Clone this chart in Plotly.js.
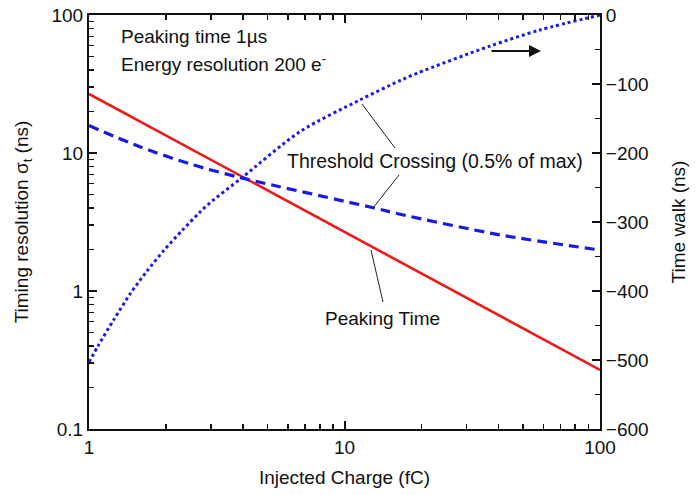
<!DOCTYPE html>
<html>
<head>
<meta charset="utf-8">
<script src="https://cdn.plot.ly/plotly-3.0.1.min.js"></script>
<style>html,body{margin:0;padding:0;background:#fff}#chart{width:697px;height:495px}</style>
</head>
<body>
<div id="chart"></div>
<script>
// Peaking time timing resolution (ns) vs injected charge (fC)
var peakQ = [1, 10, 100];
var peakSigma = [26.8, 2.68, 0.268];

// Threshold crossing timing resolution (ns)
var thrQ = [1, 1.58, 2.56, 3.96, 12.96, 16.5, 40.6, 100];
var thrSigma = [15.8, 11.1, 8.19, 6.6, 4.01, 3.6, 2.55, 1.98];

// Threshold crossing time walk (ns), right axis
var walkQ = [1.0, 1.087, 1.253, 1.456, 1.687, 1.966, 2.318, 2.696, 2.958, 3.96, 6.70, 11.5, 16.5, 19.2, 37.1, 58.2, 100];
var walkNs = [-503, -479, -441, -403, -371, -341, -312, -287, -273, -236, -169, -123, -95, -84.5, -45, -21.7, 0];

var FONT = 'Arial, "Liberation Sans", sans-serif';
var FS = 19;
var TC = '#111';
var L = 89, R = 600, T = 15, B = 429;
function px(x){ return (x - L) / (R - L); }
function py(y){ return (B - y) / (B - T); }

var traces = [
  {x: peakQ, y: peakSigma, type: 'scatter', mode: 'lines',
   line: {color: 'rgb(240,25,25)', width: 2.6}, xaxis: 'x', yaxis: 'y'},
  {x: thrQ, y: thrSigma, type: 'scatter', mode: 'lines',
   line: {color: 'rgb(25,25,235)', width: 3.2, dash: '10px,6px', shape: 'spline', smoothing: 0.8}, xaxis: 'x', yaxis: 'y'},
  {x: walkQ, y: walkNs, type: 'scatter', mode: 'lines',
   line: {color: 'rgb(25,25,235)', width: 3, dash: 'dot', shape: 'spline', smoothing: 0.8}, xaxis: 'x', yaxis: 'y2'}
];

function tk(extra){
  return Object.assign({
    ticks: 'inside', ticklen: 8, tickwidth: 2, tickcolor: TC,
    minor: {ticks: 'inside', ticklen: 5, tickwidth: 1.6, tickcolor: TC},
    showline: true, linecolor: '#111', linewidth: 2,
    zeroline: false, showgrid: false,
    tickfont: {size: FS, family: FONT, color: '#111'}
  }, extra);
}

var layout = {
  width: 697, height: 495,
  margin: {l: L, r: 697 - R, t: T, b: 495 - B},
  showlegend: false,
  font: {family: FONT, size: FS, color: '#111'},
  xaxis: tk({
    type: 'log', range: [0, 2], dtick: 1, mirror: 'ticks',
    title: {text: 'Injected Charge (fC)', font: {size: FS, family: FONT, color: '#111'}, standoff: 14}
  }),
  yaxis: tk({
    type: 'log', range: [-1, 2], dtick: 1,
    title: {text: 'Timing resolution σ<sub>t</sub> (ns)', font: {size: FS, family: FONT, color: '#111'}, standoff: 18}
  }),
  yaxis2: tk({
    overlaying: 'y', side: 'right', anchor: 'x', range: [-600, 0], dtick: 100, tick0: 0,
    minor: {ticks: 'inside', ticklen: 5, tickwidth: 1.6, tickcolor: TC, dtick: 50},
    title: {text: 'Time walk (ns)', font: {size: FS, family: FONT, color: '#111'}, standoff: 24}
  }),
  shapes: [
    {type: 'line', xref: 'paper', yref: 'paper', x0: px(362), y0: py(104), x1: px(395), y1: py(148), line: {color: '#222', width: 1}},
    {type: 'line', xref: 'paper', yref: 'paper', x0: px(399), y0: py(175), x1: px(373), y1: py(208), line: {color: '#222', width: 1}},
    {type: 'line', xref: 'paper', yref: 'paper', x0: px(371), y0: py(250), x1: px(383), y1: py(302), line: {color: '#222', width: 1}}
  ],
  annotations: [
    {xref: 'paper', yref: 'paper', x: px(119), y: py(36), xanchor: 'left', yanchor: 'middle', showarrow: false,
     text: 'Peaking time 1µs', font: {size: FS, family: FONT, color: '#111'}},
    {xref: 'paper', yref: 'paper', x: px(119), y: py(63), xanchor: 'left', yanchor: 'middle', showarrow: false,
     text: 'Energy resolution 200 e<sup>-</sup>', font: {size: FS, family: FONT, color: '#111'}},
    {xref: 'paper', yref: 'paper', x: px(435), y: py(161), xanchor: 'center', yanchor: 'middle', showarrow: false,
     text: 'Threshold Crossing (0.5% of max)', font: {size: 19.5, family: FONT, color: '#111'}},
    {xref: 'paper', yref: 'paper', x: px(382), y: py(319), xanchor: 'center', yanchor: 'middle', showarrow: false,
     text: 'Peaking Time', font: {size: FS, family: FONT, color: '#111'}},
    {xref: 'paper', yref: 'paper', x: px(541), y: py(51), ax: -51, ay: 0, showarrow: true,
     arrowhead: 2, arrowsize: 1.2, arrowwidth: 2, arrowcolor: '#111', text: ''}
  ]
};

Plotly.newPlot('chart', traces, layout, {staticPlot: true, displayModeBar: false});
</script>
</body>
</html>
